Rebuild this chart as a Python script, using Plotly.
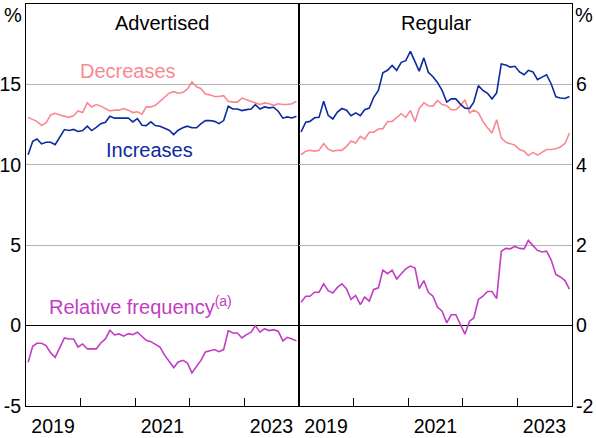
import pandas as pd
import plotly.graph_objects as go

# Monthly observations, Jan 2019 - Dec 2023 (plotted mid-month)
dates = pd.date_range("2019-01-01", periods=60, freq="MS") + pd.Timedelta(days=14)

adv_increases = [10.63, 11.46, 11.6, 11.3, 11.4, 11.4, 11.25, 11.7, 12.19, 12.13,
                 12.2, 12.07, 12.13, 12.4, 12.13, 12.33, 12.56, 12.65, 13.02, 12.9,
                 12.91, 12.91, 12.91, 12.67, 12.87, 12.46, 12.44, 12.67, 12.44, 12.4,
                 12.3, 12.15, 11.88, 12.15, 12.3, 12.4, 12.3, 12.3, 12.54, 12.75,
                 12.75, 12.7, 12.56, 12.75, 13.64, 13.47, 13.47, 13.37, 13.43, 13.47,
                 13.74, 13.47, 13.6, 13.54, 13.58, 13.33, 12.9, 12.98, 12.91, 13.02]
adv_decreases = [12.95, 12.8, 12.7, 12.45, 12.6, 13.1, 13.2, 13.1, 13.0, 12.95,
                 13.05, 13.35, 13.25, 13.85, 13.6, 13.75, 13.65, 13.5, 13.35, 13.4,
                 13.4, 13.5, 13.4, 13.25, 13.3, 13.15, 13.6, 13.6, 13.7, 13.95,
                 14.2, 14.45, 14.55, 14.45, 14.5, 14.7, 15.15, 14.85, 14.75, 14.4,
                 14.35, 14.25, 14.25, 14.3, 13.95, 13.9, 13.9, 14.15, 14.05, 13.95,
                 13.85, 13.75, 13.85, 13.8, 13.7, 13.8, 13.75, 13.75, 13.8, 13.95]
adv_relative = [-2.28, -1.29, -1.1, -1.1, -1.24, -1.7, -1.97, -1.35, -0.77, -0.83,
                -0.83, -1.33, -1.14, -1.45, -1.45, -1.45, -1.08, -0.83, -0.29, -0.58,
                -0.52, -0.66, -0.5, -0.56, -0.41, -0.66, -0.91, -1.0, -1.14, -1.33,
                -1.82, -2.2, -2.61, -2.26, -2.16, -2.32, -2.94, -2.53, -2.18, -1.64,
                -1.55, -1.49, -1.62, -1.49, -0.31, -0.46, -0.46, -0.77, -0.56, -0.41,
                0.0, -0.41, -0.19, -0.31, -0.25, -0.35, -0.95, -0.73, -0.83, -0.95]

reg_increases = [4.82, 5.06, 5.08, 5.17, 5.18, 5.58, 5.23, 5.14, 5.31, 5.4,
                 5.36, 5.22, 5.29, 5.22, 5.37, 5.41, 5.68, 5.85, 6.29, 6.35,
                 6.47, 6.35, 6.55, 6.59, 6.82, 6.58, 6.33, 6.66, 6.3, 6.19,
                 6.05, 5.85, 5.56, 5.64, 5.64, 5.51, 5.41, 5.4, 5.56, 5.97,
                 5.85, 5.78, 5.64, 5.79, 6.51, 6.48, 6.43, 6.45, 6.31, 6.24,
                 6.35, 6.31, 6.12, 6.18, 6.24, 6.01, 5.69, 5.66, 5.65, 5.7]
reg_decreases = [4.25, 4.34, 4.36, 4.34, 4.36, 4.53, 4.39, 4.34, 4.36, 4.36,
                 4.46, 4.59, 4.54, 4.71, 4.64, 4.81, 4.81, 4.89, 4.9, 5.07,
                 5.08, 5.17, 5.27, 5.18, 5.35, 5.07, 5.4, 5.54, 5.47, 5.46,
                 5.6, 5.5, 5.47, 5.37, 5.37, 5.47, 5.62, 5.29, 5.36, 5.29,
                 5.08, 4.92, 4.79, 5.12, 4.67, 4.56, 4.53, 4.49, 4.38, 4.34,
                 4.23, 4.31, 4.24, 4.31, 4.38, 4.38, 4.4, 4.44, 4.53, 4.79]
reg_relative = [0.58, 0.73, 0.73, 0.83, 0.83, 1.04, 0.87, 0.81, 0.95, 1.04,
                0.91, 0.65, 0.75, 0.52, 0.71, 0.61, 0.9, 0.94, 1.38, 1.29,
                1.38, 1.16, 1.29, 1.41, 1.48, 1.43, 0.92, 1.12, 0.83, 0.73,
                0.46, 0.36, 0.07, 0.27, 0.27, 0.02, -0.21, 0.11, 0.19, 0.65,
                0.73, 0.85, 0.85, 0.67, 1.85, 1.92, 1.91, 1.97, 1.92, 1.91,
                2.12, 1.99, 1.87, 1.83, 1.85, 1.63, 1.27, 1.21, 1.12, 0.91]

panel_titles = ["Advertised", "Regular"]
left_ticks = [-5, 0, 5, 10, 15]
left_tick_text = ["-5", "0", "5", "10", "15"]
right_ticks = [-2, 0, 2, 4, 6]
right_tick_text = ["-2", "0", "2", "4", "6"]
year_label_vals = ["2019-07-01", "2021-07-01", "2023-07-01"]
year_label_text = ["2019", "2021", "2023"]
year_tick_vals = ["2020-01-01", "2021-01-01", "2022-01-01", "2023-01-01"]

BLUE = "#0C2A9E"
PINK = "#FA8890"
PURPLE = "#C23DC4"
FONT = "Liberation Sans, Arial, sans-serif"
FS = 20
TFS = 19.5

fig = go.Figure()
for xa, ya, inc, dec, rel in [("x", "y", adv_increases, adv_decreases, adv_relative),
                              ("x2", "y2", reg_increases, reg_decreases, reg_relative)]:
    fig.add_trace(go.Scatter(x=dates, y=dec, mode="lines", line=dict(color=PINK, width=1.6),
                             xaxis=xa, yaxis=ya, showlegend=False))
    fig.add_trace(go.Scatter(x=dates, y=inc, mode="lines", line=dict(color=BLUE, width=1.6),
                             xaxis=xa, yaxis=ya, showlegend=False))
    fig.add_trace(go.Scatter(x=dates, y=rel, mode="lines", line=dict(color=PURPLE, width=1.6),
                             xaxis=xa, yaxis=ya, showlegend=False))

xcommon = dict(type="date", range=["2019-01-01", "2024-01-01"], showgrid=False, zeroline=False,
               showline=True, mirror=True, linecolor="black", linewidth=1,
               tickvals=year_label_vals, ticktext=year_label_text, ticks="",
               ticklabelstandoff=3, automargin=False,
               tickfont=dict(family=FONT, size=TFS, color="black"),
               minor=dict(tickvals=year_tick_vals, ticks="inside", ticklen=8,
                          tickcolor="black", tickwidth=1, showgrid=False))
ycommon = dict(showgrid=True, gridcolor="#B4B4B4", gridwidth=1, zeroline=True,
               zerolinecolor="black", zerolinewidth=1, showline=True, mirror=True,
               linecolor="black", linewidth=1, ticks="", automargin=False,
               tickfont=dict(family=FONT, size=TFS, color="black"))

fig.update_layout(
    width=596, height=438,
    margin=dict(l=26, r=24, t=4, b=32, autoexpand=False),
    paper_bgcolor="white", plot_bgcolor="white",
    font=dict(family=FONT, size=FS, color="black"),
    xaxis=dict(domain=[0, 0.5], anchor="y", **xcommon),
    xaxis2=dict(domain=[0.5, 1], anchor="y2", **xcommon),
    yaxis=dict(anchor="x", range=[-5, 20], tickvals=left_ticks, ticktext=left_tick_text,
               side="left", **ycommon),
    yaxis2=dict(anchor="x2", range=[-2, 8], tickvals=right_ticks, ticktext=right_tick_text,
                side="right", ticklabelstandoff=-1, **ycommon),
)

annos = [
    dict(text="%", xref="paper", yref="paper", x=-0.024, y=0.972, showarrow=False,
         xanchor="center", yanchor="middle"),
    dict(text="%", xref="paper", yref="paper", x=1.022, y=0.972, showarrow=False,
         xanchor="center", yanchor="middle"),
    dict(text=panel_titles[0], xref="paper", yref="paper", x=0.25, y=0.953, showarrow=False,
         xanchor="center", yanchor="middle"),
    dict(text=panel_titles[1], xref="paper", yref="paper", x=0.75, y=0.953, showarrow=False,
         xanchor="center", yanchor="middle"),
    dict(text="Decreases", xref="x", yref="y", x="2020-11-10", y=15.85, showarrow=False,
         xanchor="center", yanchor="middle", font=dict(color=PINK)),
    dict(text="Increases", xref="x", yref="y", x="2021-04-08", y=10.9, showarrow=False,
         xanchor="center", yanchor="middle", font=dict(color=BLUE)),
    dict(text="Relative frequency<sup>(a)</sup>", xref="x", yref="y", x="2019-05-24", y=1.22,
         showarrow=False, xanchor="left", yanchor="middle", font=dict(color=PURPLE)),
]
fig.update_layout(annotations=annos)
fig.write_html("out.html")
